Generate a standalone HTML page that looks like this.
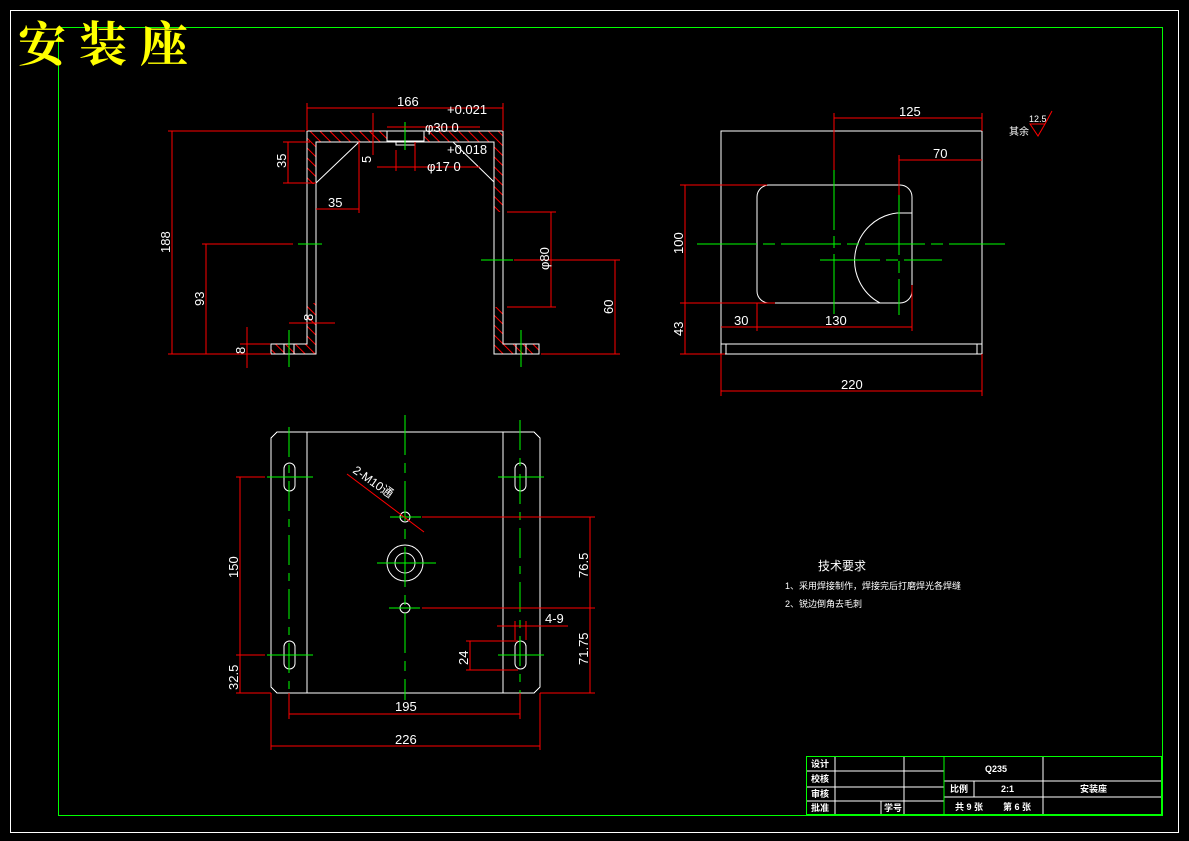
<!DOCTYPE html>
<html><head><meta charset="utf-8"><style>
html,body{margin:0;padding:0;background:#000;}
svg{display:block}
text{font-family:"Liberation Sans","Noto Sans CJK SC",sans-serif;fill:#fff}
line,rect,path{shape-rendering:crispEdges}
circle{shape-rendering:auto}
</style></head><body>
<svg width="1189" height="841" viewBox="0 0 1189 841" xmlns="http://www.w3.org/2000/svg">
<defs>
<pattern id="h" width="7" height="7" patternUnits="userSpaceOnUse" patternTransform="rotate(-45)">
<rect width="7" height="7" fill="#000"/><line x1="0" y1="0" x2="0" y2="7" stroke="#f00" stroke-width="2"/>
</pattern>
</defs>
<rect width="1189" height="841" fill="#000"/>
<rect x="10.5" y="10.5" width="1168" height="822" fill="none" stroke="#fff" stroke-width="1"/>
<rect x="58.5" y="27.5" width="1104" height="788" fill="none" stroke="#0f0" stroke-width="1"/>
<text x="18" y="61" font-size="48" letter-spacing="13" style="fill:#ff0;font-family:'Noto Serif CJK SC','Noto Sans CJK SC',serif;font-weight:bold">安装座</text>

<!-- FRONT VIEW -->
<g stroke-width="1">
<rect x="307" y="131" width="196" height="11" fill="url(#h)"/>
<rect x="307" y="131" width="9" height="53" fill="url(#h)"/>
<rect x="307" y="303" width="9" height="51" fill="url(#h)"/>
<rect x="494" y="131" width="9" height="81" fill="url(#h)"/>
<rect x="494" y="307" width="9" height="47" fill="url(#h)"/>
<rect x="271" y="344" width="45" height="10" fill="url(#h)"/>
<rect x="494" y="344" width="45" height="10" fill="url(#h)"/>
<g fill="none" stroke="#fff">
<path d="M271 344 H307 V131 H503 V344 H539 V354 H494 V142 H316 V354 H271 Z"/>
<rect x="387" y="131" width="37" height="10" fill="#000"/>
<rect x="396" y="141" width="19" height="4"/>
<line x1="316" y1="183" x2="359" y2="142" style="shape-rendering:auto"/>
<line x1="453" y1="142" x2="494" y2="182" style="shape-rendering:auto"/>
<line x1="284" y1="344" x2="284" y2="354"/><line x1="294" y1="344" x2="294" y2="354"/>
<line x1="516" y1="344" x2="516" y2="354"/><line x1="526" y1="344" x2="526" y2="354"/>
</g>
<g stroke="#0f0"><line x1="298" y1="244" x2="322" y2="244"/><line x1="481" y1="260" x2="513" y2="260"/>
<line x1="289" y1="330" x2="289" y2="367"/><line x1="521" y1="330" x2="521" y2="367"/><line x1="405" y1="122" x2="405" y2="150"/></g>
<g stroke="#f00" fill="none">
<line x1="307" y1="108" x2="503" y2="108"/><line x1="307" y1="103" x2="307" y2="131"/><line x1="503" y1="103" x2="503" y2="131"/>
<line x1="387" y1="127" x2="480" y2="127"/><line x1="377" y1="167" x2="480" y2="167"/><line x1="396" y1="150" x2="396" y2="171"/><line x1="415" y1="142" x2="415" y2="171"/>
<line x1="373" y1="113" x2="373" y2="155"/>
<line x1="283" y1="142" x2="310" y2="142"/><line x1="283" y1="183" x2="316" y2="183"/><line x1="288" y1="142" x2="288" y2="183"/>
<line x1="316" y1="209" x2="359" y2="209"/><line x1="359" y1="142" x2="359" y2="213"/>
<line x1="168" y1="131" x2="305" y2="131"/><line x1="168" y1="354" x2="271" y2="354"/><line x1="172" y1="131" x2="172" y2="354"/>
<line x1="202" y1="244" x2="293" y2="244"/><line x1="206" y1="244" x2="206" y2="354"/>
<line x1="240" y1="344" x2="270" y2="344"/><line x1="247" y1="327" x2="247" y2="368"/>
<line x1="289" y1="323" x2="335" y2="323"/>
<line x1="507" y1="212" x2="556" y2="212"/><line x1="507" y1="307" x2="556" y2="307"/><line x1="551" y1="212" x2="551" y2="307"/>
<line x1="514" y1="260" x2="620" y2="260"/><line x1="541" y1="354" x2="620" y2="354"/><line x1="615" y1="260" x2="615" y2="354"/>
</g>
</g>
<g font-size="13">
<text x="397" y="106">166</text>
<text x="447" y="114">+0.021</text>
<text x="425" y="132">φ30 0</text>
<text x="447" y="154">+0.018</text>
<text x="427" y="171">φ17 0</text>
<text x="328" y="207">35</text>
<text transform="translate(286,168) rotate(-90)">35</text>
<text transform="translate(371,163) rotate(-90)">5</text>
<text transform="translate(170,253) rotate(-90)">188</text>
<text transform="translate(204,306) rotate(-90)">93</text>
<text transform="translate(245,354) rotate(-90)">8</text>
<text transform="translate(313,321) rotate(-90)">8</text>
<text transform="translate(549,270) rotate(-90)">φ80</text>
<text transform="translate(613,314) rotate(-90)">60</text>
</g>

<!-- RIGHT VIEW -->
<g fill="none" stroke-width="1">
<g stroke="#fff">
<rect x="721" y="131" width="261" height="213"/>
<rect x="721" y="344" width="261" height="10"/>
<line x1="726" y1="344" x2="726" y2="354"/><line x1="977" y1="344" x2="977" y2="354"/>
<rect x="757" y="185" width="155" height="118" rx="12" style="shape-rendering:auto"/>
<path d="M912 213 H897 A48 48 0 0 0 880 303" style="shape-rendering:auto"/>
</g>
<g stroke="#0f0" stroke-dasharray="60,6,12,6">
<line x1="697" y1="244" x2="1005" y2="244"/><line x1="834" y1="170" x2="834" y2="315"/><line x1="899" y1="195" x2="899" y2="315"/><line x1="820" y1="260" x2="942" y2="260"/>
</g>
<g stroke="#f00">
<line x1="834" y1="113" x2="834" y2="170"/><line x1="834" y1="118" x2="982" y2="118"/><line x1="982" y1="113" x2="982" y2="131"/>
<line x1="899" y1="155" x2="899" y2="195"/><line x1="899" y1="160" x2="982" y2="160"/>
<line x1="680" y1="185" x2="767" y2="185"/><line x1="680" y1="303" x2="775" y2="303"/><line x1="680" y1="354" x2="725" y2="354"/>
<line x1="685" y1="185" x2="685" y2="354"/>
<line x1="721" y1="327" x2="912" y2="327"/><line x1="757" y1="303" x2="757" y2="331"/><line x1="912" y1="285" x2="912" y2="331"/>
<line x1="721" y1="354" x2="721" y2="396"/><line x1="982" y1="354" x2="982" y2="396"/><line x1="721" y1="391" x2="982" y2="391"/>
<path d="M1030 124 H1045 L1038 136 Z M1045 124 L1052 111" style="shape-rendering:auto"/>
</g>
</g>
<g font-size="13">
<text x="899" y="116">125</text>
<text x="933" y="158">70</text>
<text x="734" y="325">30</text>
<text x="825" y="325">130</text>
<text x="841" y="389">220</text>
<text transform="translate(683,254) rotate(-90)">100</text>
<text transform="translate(683,336) rotate(-90)">43</text>
<text x="1029" y="122" font-size="9">12.5</text>
<text x="1009" y="135" font-size="10">其余</text>
</g>

<!-- BOTTOM VIEW -->
<g fill="none" stroke-width="1">
<g stroke="#fff">
<path d="M277 432 H534 L540 438 V687 L534 693 H277 L271 687 V438 Z"/>
<line x1="307" y1="432" x2="307" y2="693"/><line x1="503" y1="432" x2="503" y2="693"/>
<rect x="284" y="463" width="11" height="28" rx="5.5" style="shape-rendering:auto"/><rect x="515" y="463" width="11" height="28" rx="5.5" style="shape-rendering:auto"/>
<rect x="284" y="641" width="11" height="28" rx="5.5" style="shape-rendering:auto"/><rect x="515" y="641" width="11" height="28" rx="5.5" style="shape-rendering:auto"/>
<circle cx="405" cy="563" r="18"/><circle cx="405" cy="563" r="10"/>
<circle cx="405" cy="517" r="5"/><circle cx="405" cy="608" r="5"/>
</g>
<g stroke="#0f0">
<line x1="289" y1="427" x2="289" y2="713" stroke-dasharray="30,8,8,8"/>
<line x1="520" y1="420" x2="520" y2="713" stroke-dasharray="30,8,8,8"/>
<line x1="405" y1="415" x2="405" y2="700" stroke-dasharray="40,8,10,8"/>
<line x1="267" y1="477" x2="313" y2="477"/><line x1="498" y1="477" x2="544" y2="477"/>
<line x1="267" y1="655" x2="313" y2="655"/><line x1="498" y1="655" x2="544" y2="655"/>
<line x1="390" y1="517" x2="421" y2="517"/><line x1="377" y1="563" x2="436" y2="563"/><line x1="389" y1="608" x2="420" y2="608"/>
</g>
<g stroke="#f00">
<line x1="236" y1="477" x2="265" y2="477"/><line x1="236" y1="655" x2="265" y2="655"/><line x1="236" y1="693" x2="271" y2="693"/>
<line x1="240" y1="477" x2="240" y2="693"/>
<line x1="422" y1="517" x2="595" y2="517"/><line x1="422" y1="608" x2="595" y2="608"/><line x1="540" y1="693" x2="595" y2="693"/>
<line x1="590" y1="517" x2="590" y2="693"/>
<line x1="289" y1="693" x2="289" y2="719"/><line x1="520" y1="693" x2="520" y2="719"/><line x1="289" y1="714" x2="520" y2="714"/>
<line x1="271" y1="693" x2="271" y2="750"/><line x1="540" y1="693" x2="540" y2="750"/><line x1="271" y1="746" x2="540" y2="746"/>
<line x1="497" y1="626" x2="568" y2="626"/><line x1="515" y1="621" x2="515" y2="640"/><line x1="526" y1="621" x2="526" y2="640"/>
<line x1="466" y1="641" x2="518" y2="641"/><line x1="466" y1="670" x2="518" y2="670"/><line x1="470" y1="641" x2="470" y2="670"/>
<line x1="347" y1="474" x2="424" y2="532" style="shape-rendering:auto"/>
</g>
</g>
<g font-size="13">
<text x="395" y="711">195</text>
<text x="395" y="744">226</text>
<text x="545" y="623">4-9</text>
<text transform="translate(238,578) rotate(-90)">150</text>
<text transform="translate(238,690) rotate(-90)">32.5</text>
<text transform="translate(588,578) rotate(-90)">76.5</text>
<text transform="translate(588,665) rotate(-90)">71.75</text>
<text transform="translate(468,665) rotate(-90)">24</text>
<text transform="translate(352,472) rotate(35)" font-size="12">2-M10通</text>
</g>

<!-- Tech requirements -->
<text x="818" y="570" font-size="12">技术要求</text>
<text x="785" y="589" font-size="9">1、采用焊接制作，焊接完后打磨焊光各焊缝</text>
<text x="785" y="607" font-size="9">2、锐边倒角去毛刺</text>

<!-- Title block -->
<g fill="none" stroke-width="1">
<g stroke="#fff">
<line x1="806" y1="771" x2="944" y2="771"/><line x1="806" y1="787" x2="944" y2="787"/><line x1="806" y1="801" x2="944" y2="801"/>
<line x1="835" y1="756" x2="835" y2="815"/><line x1="904" y1="756" x2="904" y2="815"/><line x1="881" y1="801" x2="881" y2="815"/>
<line x1="944" y1="781" x2="1162" y2="781"/><line x1="944" y1="797" x2="1162" y2="797"/>
<line x1="974" y1="781" x2="974" y2="797"/><line x1="1043" y1="756" x2="1043" y2="815"/>
</g>
<g stroke="#0f0">
<rect x="806.5" y="756.5" width="355" height="58"/>
<line x1="944" y1="756" x2="944" y2="815"/>
</g>
</g>
<g font-size="9" style="font-weight:bold">
<text x="811" y="767">设计</text>
<text x="811" y="782">校核</text>
<text x="811" y="797">审核</text>
<text x="811" y="811">批准</text>
<text x="884" y="811">学号</text>
<text x="985" y="772">Q235</text>
<text x="950" y="792">比例</text>
<text x="1001" y="792">2:1</text>
<text x="1080" y="792">安装座</text>
<text x="955" y="810">共 9 张</text>
<text x="1003" y="810">第 6 张</text>
</g>
</svg>
</body></html>
